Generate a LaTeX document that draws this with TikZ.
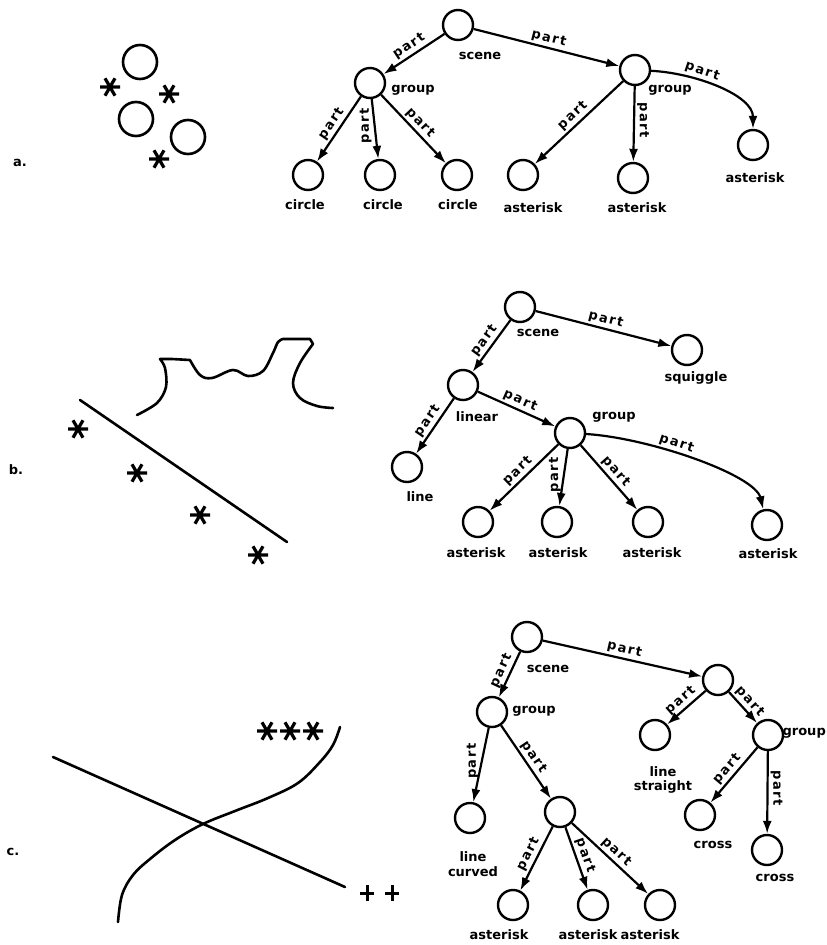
\documentclass[tikz,border=0pt]{standalone}
\usepackage{fontspec}
\setmainfont{DejaVu Sans}
\newfontfamily\partfont[LetterSpace=12]{DejaVu Sans}
\usetikzlibrary{arrows.meta}
\begin{document}
\begin{tikzpicture}[x=1pt,y=-1pt,
  obj/.style={circle,draw,line width=2.4pt,minimum size=30pt,inner sep=0pt},
  nm/.style={font=\bfseries\fontsize{13}{14.5}\selectfont,inner sep=0pt,align=center},
  rel/.style={line width=2.2pt,-{Latex[length=13pt,width=9pt]}},
  partlbl/.style={font=\partfont\bfseries\fontsize{13}{13}\selectfont,inner sep=2pt},
  ink/.style={line width=2.6pt,line cap=round,line join=round},
  ast/.pic={\draw[line width=3.2pt] (-10,0)--(10,0) (-5,-8.7)--(5,8.7) (-5,8.7)--(5,-8.7);},
  crs/.pic={\draw[line width=3pt] (-7,0)--(7,0) (0,-8)--(0,8);}
]
\useasboundingbox (0,0) rectangle (827,945);

% ---------------- a. ----------------
\node[nm] (la) at (20,163) {a.};
\draw[ink] (140,62) circle[radius=17] (136,119) circle[radius=17] (188,137) circle[radius=17];
\pic at (110,87) {ast};
\pic at (169,94) {ast};
\pic at (159,159) {ast};

\node[obj] (aS)  at (458,25) {};
\node[obj] (aG1) at (370,83) {};
\node[obj] (aG2) at (635,70) {};
\node[obj] (aC1) at (308,175) {};
\node[obj] (aC2) at (380,175) {};
\node[obj] (aC3) at (457,175) {};
\node[obj] (aA1) at (523,175) {};
\node[obj] (aA2) at (633,178) {};
\node[obj] (aA3) at (753,145) {};

\node[nm] (aSl)  at (480,56) {scene};
\node[nm] (aG1l) at (413,90) {group};
\node[nm] (aG2l) at (670,90) {group};
\node[nm] (aC1l) at (305,205) {circle};
\node[nm] (aC2l) at (383,205) {circle};
\node[nm] (aC3l) at (458,205) {circle};
\node[nm] (aA1l) at (533,208) {asterisk};
\node[nm] (aA2l) at (637,208) {asterisk};
\node[nm] (aA3l) at (755,178) {asterisk};

\draw[rel] (aS) -- node[partlbl,sloped,above]{part} (aG1);
\draw[rel] (aS) -- node[partlbl,sloped,above]{part} (aG2);
\draw[rel] (aG1) -- node[partlbl,sloped,above]{part} (aC1);
\draw[rel] (aG1) -- node[partlbl,rotate=90,anchor=south,pos=.45]{part} (aC2);
\draw[rel] (aG1) -- node[partlbl,sloped,above]{part} (aC3);
\draw[rel] (aG2) -- node[partlbl,sloped,above]{part} (aA1);
\draw[rel] (aG2) -- node[partlbl,rotate=-90,anchor=south,pos=.45]{part} (aA2);
\draw[rel] (aG2) .. controls +(60,3) and +(0,-50) .. node[partlbl,sloped,above,pos=.35]{part} (aA3);

% ---------------- b. ----------------
\node[nm] (lb) at (16,470) {b.};
\draw[ink] (80,400) -- (287,542);
\pic at (78,429) {ast};
\pic at (137,473) {ast};
\pic at (200,515) {ast};
\pic at (258,555) {ast};
\draw[ink] plot[smooth,tension=0.55] coordinates {
  (137,415) (157,403) (166,387) (165,368) (160,359)}
  -- (172,359) -- (190,360)
  plot[smooth,tension=0.6] coordinates {
  (190,360) (200,375) (212,378) (233,370) (248,376) (263,371) (273,353) (278,342) (283,339)}
  -- (310,339) -- (313,344)
  plot[smooth,tension=0.6] coordinates {
  (313,344) (300,363) (293,383) (300,398) (317,406) (333,408)};

\node[obj] (bS)   at (520,307) {};
\node[obj] (bSq)  at (687,350) {};
\node[obj] (bL)   at (463,385) {};
\node[obj] (bG)   at (570,433) {};
\node[obj] (bLn)  at (407,467) {};
\node[obj] (bA1)  at (478,522) {};
\node[obj] (bA2)  at (557,522) {};
\node[obj] (bA3)  at (648,522) {};
\node[obj] (bA4)  at (767,525) {};

\node[nm] (bSl)  at (538,333) {scene};
\node[nm] (bSql) at (696,378) {squiggle};
\node[nm] (bLl)  at (477,417) {linear};
\node[nm] (bGl)  at (614,417) {group};
\node[nm] (bLnl) at (420,497) {line};
\node[nm] (bA1l) at (476,553) {asterisk};
\node[nm] (bA2l) at (558,553) {asterisk};
\node[nm] (bA3l) at (652,553) {asterisk};
\node[nm] (bA4l) at (768,554) {asterisk};

\draw[rel] (bS) -- node[partlbl,sloped,above]{part} (bSq);
\draw[rel] (bS) -- node[partlbl,sloped,above]{part} (bL);
\draw[rel] (bL) -- node[partlbl,sloped,above]{part} (bLn);
\draw[rel] (bL) -- node[partlbl,sloped,above]{part} (bG);
\draw[rel] (bG) -- node[partlbl,sloped,above]{part} (bA1);
\draw[rel] (bG) -- node[partlbl,rotate=90,anchor=south,pos=.45]{part} (bA2);
\draw[rel] (bG) -- node[partlbl,sloped,above]{part} (bA3);
\draw[rel] (bG) .. controls +(80,5) and +(-12,-50) .. node[partlbl,sloped,above,pos=.4]{part} (bA4);

% ---------------- c. ----------------
\node[nm] (lc) at (13,852) {c.};
\draw[ink] (53,757) -- (345,887);
\draw[ink] plot[smooth,tension=0.6] coordinates {
  (118,922) (122,895) (133,875) (150,859) (175,840) (203,824) (235,811) (268,798) (298,783) (320,762) (333,745) (340,727)};
\pic at (267,731) {ast};
\pic at (290,731) {ast};
\pic at (313,731) {ast};
\pic at (367,893) {crs};
\pic at (392,893) {crs};

\node[obj] (cS)  at (527,637) {};
\node[obj] (cG)  at (492,712) {};
\node[obj] (cR)  at (718,680) {};
\node[obj] (cLS) at (655,735) {};
\node[obj] (cGR) at (768,735) {};
\node[obj] (cX1) at (700,815) {};
\node[obj] (cX2) at (767,850) {};
\node[obj] (cLC) at (470,818) {};
\node[obj] (cM)  at (560,812) {};
\node[obj] (cA1) at (513,905) {};
\node[obj] (cA2) at (593,905) {};
\node[obj] (cA3) at (660,905) {};

\node[nm] (cSl)  at (548,669) {scene};
\node[nm] (cGl)  at (534,711) {group};
\node[nm,anchor=east] (cGRl) at (826,733) {group};
\node[nm] (cLSl) at (663,780) {line\\straight};
\node[nm] (cLCl) at (473,864) {line\\curved};
\node[nm] (cX1l) at (713,845) {cross};
\node[nm] (cX2l) at (775,878) {cross};
\node[nm] (cA1l) at (499,935) {asterisk};
\node[nm] (cA2l) at (588,935) {asterisk};
\node[nm] (cA3l) at (650,935) {asterisk};

\draw[rel] (cS) -- node[partlbl,sloped,above]{part} (cG);
\draw[rel] (cS) -- node[partlbl,sloped,above]{part} (cR);
\draw[rel] (cR) -- node[partlbl,sloped,above]{part} (cLS);
\draw[rel] (cR) -- node[partlbl,sloped,above]{part} (cGR);
\draw[rel] (cGR) -- node[partlbl,sloped,above]{part} (cX1);
\draw[rel] (cGR) -- node[partlbl,rotate=-90,anchor=south,pos=.45]{part} (cX2);
\draw[rel] (cG) -- node[partlbl,rotate=90,anchor=south,pos=.45]{part} (cLC);
\draw[rel] (cG) -- node[partlbl,sloped,above]{part} (cM);
\draw[rel] (cM) -- node[partlbl,sloped,above]{part} (cA1);
\draw[rel] (cM) -- node[partlbl,sloped,above]{part} (cA2);
\draw[rel] (cM) -- node[partlbl,sloped,above]{part} (cA3);
\end{tikzpicture}
\end{document}
